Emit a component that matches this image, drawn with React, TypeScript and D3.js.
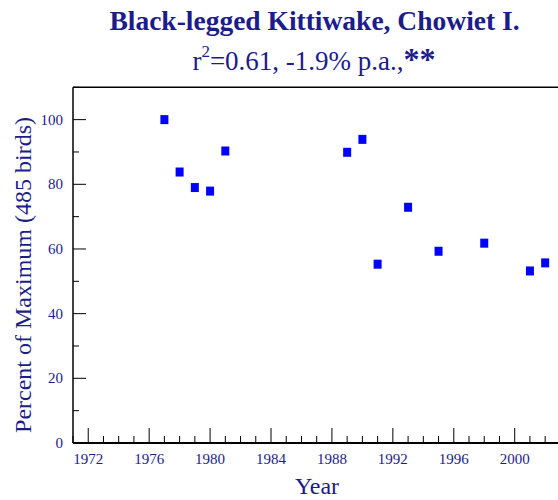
import React from "react";
import * as d3 from "d3";

const years = [1977, 1978, 1979, 1980, 1981, 1989, 1990, 1991, 1993, 1995, 1998, 2001, 2002];
const percents = [100, 83.8, 79, 77.9, 90.3, 89.9, 93.9, 55.3, 72.9, 59.3, 61.8, 53.2, 55.7];
const yearTicks = [1972, 1976, 1980, 1984, 1988, 1992, 1996, 2000];
const pctTicks = [0, 20, 40, 60, 80, 100];

const W = 558;
const H = 500;
const NAVY = "#1c1c8a";
const SERIF = "'Liberation Serif', 'Times New Roman', serif";

const x = d3.scaleLinear().domain([1971, 2003]).range([73, 560.4]);
const y = d3.scaleLinear().domain([0, 110]).range([443, 87.3]);

export default function App() {
  const minorYears = d3.range(1971, 2004);
  const minorPct = d3.range(0, 111, 10);
  const [x0, x1] = x.range();
  const [yb, yt] = y.range();

  return (
    <svg width={W} height={H} style={{ position: "absolute", left: 0, top: 0, background: "#fff" }}
      fontFamily={SERIF}>
      <text x={314.5} y={30} textAnchor="middle" fontSize={27.5} fontWeight="bold" fill={NAVY}>
        Black-legged Kittiwake, Chowiet I.
      </text>
      <text x={314} y={70} textAnchor="middle" fontSize={27} fill={NAVY}>
        <tspan>r</tspan>
        <tspan fontSize={17} dy={-13}>2</tspan>
        <tspan dy={13}>=0.61, -1.9% p.a.,</tspan>
        <tspan fontWeight="bold" fontSize={32}>**</tspan>
      </text>

      {/* frame */}
      <g stroke="#000" fill="none">
        <line x1={x0} x2={x1} y1={yt} y2={yt} strokeWidth={1.5} />
        <line x1={x0} x2={x0} y1={yt} y2={yb} strokeWidth={1.5} />
        <line x1={x1} x2={x1} y1={yt} y2={yb} strokeWidth={1.5} />
        <line x1={x0} x2={x1} y1={yb} y2={yb} strokeWidth={2} />
      </g>

      {/* x ticks */}
      <g stroke="#000" strokeWidth={1}>
        {minorYears.map((yr) => {
          const major = yearTicks.includes(yr);
          return <line key={yr} x1={x(yr)} x2={x(yr)} y1={yb} y2={yb - (major ? 15 : 7)} />;
        })}
      </g>
      <g fill={NAVY} fontSize={15} textAnchor="middle">
        {yearTicks.map((yr) => (
          <text key={yr} x={x(yr)} y={464}>{yr}</text>
        ))}
      </g>

      {/* y ticks */}
      <g stroke="#000" strokeWidth={1}>
        {minorPct.map((p) => {
          const major = pctTicks.includes(p);
          return <line key={p} x1={x0} x2={x0 + (major ? 13 : 6)} y1={y(p)} y2={y(p)} />;
        })}
      </g>
      <g fill={NAVY} fontSize={15} textAnchor="end">
        {pctTicks.map((p) => (
          <text key={p} x={63} y={y(p) + 5}>{p}</text>
        ))}
      </g>

      <text x={317} y={494} textAnchor="middle" fontSize={24} fill={NAVY}>Year</text>
      <text transform="translate(31,275) rotate(-90)" textAnchor="middle" fontSize={24} fill={NAVY}>
        Percent of Maximum (485 birds)
      </text>

      {/* points */}
      <g fill="#0000ff">
        {years.map((yr, i) => (
          <rect key={yr} x={x(yr) - 4} y={y(percents[i]) - 4.5} width={8} height={9} />
        ))}
      </g>
    </svg>
  );
}
